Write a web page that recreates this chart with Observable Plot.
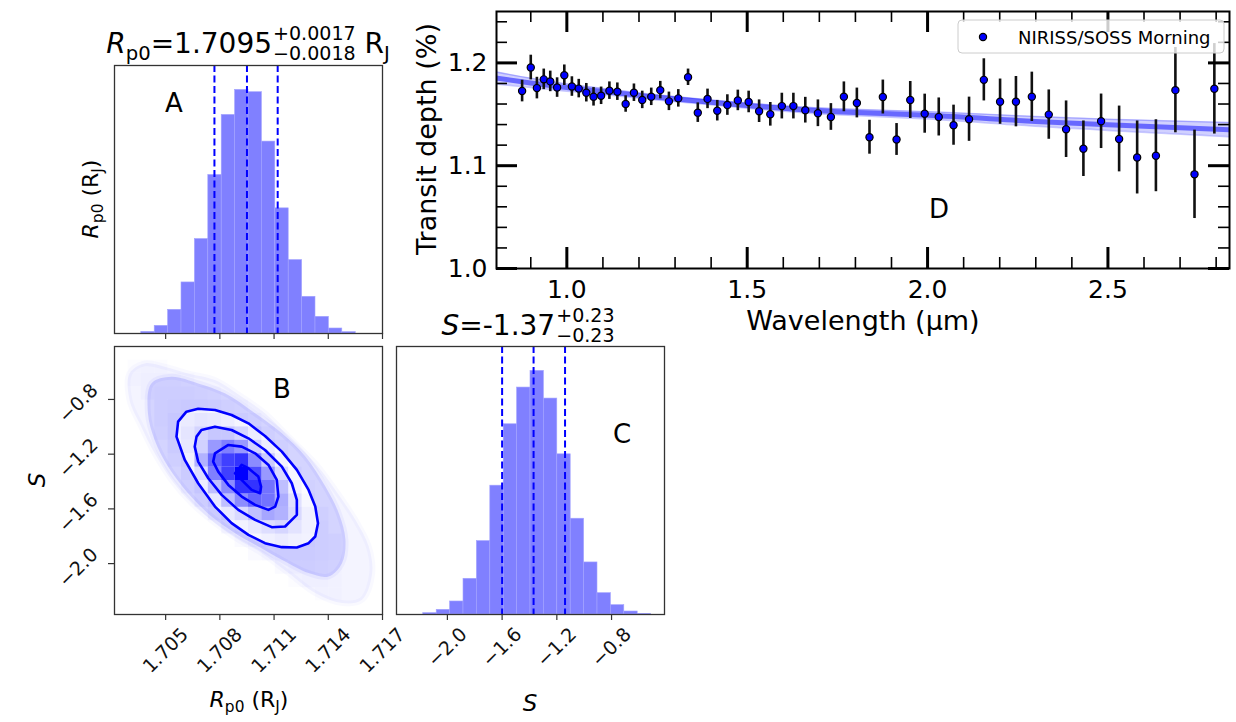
<!DOCTYPE html>
<html><head><meta charset="utf-8">
<script src="https://cdn.jsdelivr.net/npm/d3@7"></script>
<script src="https://cdn.jsdelivr.net/npm/@observablehq/plot@0.6"></script>
<style>
body{margin:0;background:white;}
#chart{position:relative;width:1236px;height:722px;background:white;font-family:"DejaVu Sans",sans-serif;overflow:hidden;}
</style></head><body><div id="chart"></div>
<script>
// ---------- Panel D: transmission spectrum ----------
const wavelength = [0.876,0.900,0.917,0.936,0.954,0.973,0.993,1.014,1.033,1.054,1.074,1.095,1.118,1.140,1.163,1.186,1.209,1.234,1.259,1.283,1.309,1.336,1.363,1.390,1.417,1.445,1.474,1.504,1.533,1.564,1.596,1.628,1.661,1.696,1.732,1.768,1.804,1.839,1.876,1.914,1.952,1.992,2.031,2.072,2.115,2.156,2.201,2.245,2.289,2.336,2.384,2.432,2.481,2.531,2.581,2.633,2.687,2.740,2.795];
const depth = [1.1726,1.1955,1.1755,1.1840,1.1820,1.1760,1.1880,1.1770,1.1750,1.1710,1.1670,1.1680,1.1730,1.1720,1.1600,1.1710,1.1640,1.1670,1.1735,1.1626,1.1655,1.1860,1.1516,1.1650,1.1535,1.1590,1.1635,1.1620,1.1530,1.1500,1.1580,1.1580,1.1540,1.1510,1.1474,1.1670,1.1610,1.1277,1.1668,1.1255,1.1639,1.1506,1.1474,1.1394,1.1452,1.1835,1.1623,1.1623,1.1670,1.1497,1.1355,1.1165,1.1432,1.1260,1.1080,1.1097,1.1735,1.0916,1.1748];
const depthErr = [0.0105,0.0120,0.0105,0.0100,0.0100,0.0095,0.0100,0.0095,0.0090,0.0090,0.0090,0.0085,0.0085,0.0085,0.0080,0.0085,0.0085,0.0085,0.0085,0.0090,0.0085,0.0080,0.0095,0.0095,0.0100,0.0100,0.0100,0.0105,0.0110,0.0115,0.0125,0.0125,0.0125,0.0130,0.0130,0.0145,0.0145,0.0165,0.0165,0.0155,0.0180,0.0190,0.0185,0.0195,0.0215,0.0205,0.0220,0.0245,0.0240,0.0240,0.0275,0.0270,0.0265,0.0320,0.0355,0.0350,0.0415,0.0430,0.0440];
// model band
const bandWl     = [0.80,0.90,1.00,1.10,1.25,1.50,1.75,2.00,2.25,2.50,2.84];
const bandCenter = [1.1855,1.1805,1.1760,1.1722,1.1665,1.1585,1.1525,1.1490,1.1440,1.1398,1.1350];
const bandUpper  = [1.1915,1.1850,1.1795,1.1752,1.1690,1.1610,1.1555,1.1525,1.1485,1.1453,1.1420];
const bandLower  = [1.1795,1.1760,1.1725,1.1692,1.1640,1.1560,1.1495,1.1455,1.1395,1.1343,1.1280];
const wlDomain = [0.805, 2.837];
const depthDomain = [1.0, 1.25];
const wlMajor = [1.0, 1.5, 2.0, 2.5];
const wlMinor = [0.9,1.1,1.2,1.3,1.4,1.6,1.7,1.8,1.9,2.1,2.2,2.3,2.4,2.6,2.7,2.8];
const depthMajor = [1.0, 1.1, 1.2];
const depthMinor = [1.02,1.04,1.06,1.08,1.12,1.14,1.16,1.18,1.22,1.24];

// ---------- Corner plot ----------
const rpRange = [1.70217, 1.71700];
const sRange = [-2.372, -0.413];
const rpCounts = [0,0,5,23,71,153,283,475,655,730,723,575,375,220,110,50,15,4,0,0];
const sCounts  = [0,0,4,14,39,107,220,386,570,680,730,647,480,287,156,64,28,9,2,0];
const rpQuantiles = [1.7077, 1.7095, 1.7112];
const sQuantiles = [-1.60, -1.37, -1.14];
const rpTicks = [1.705, 1.708, 1.711, 1.714, 1.717];
const sTicks = [-2.0, -1.6, -1.2, -0.8];
// 2D histogram density (rows from top S to bottom S, columns from low to high Rp0)
const densityRows = [
 [0,0,0,0,0,0,0,0,0,0,0,0,0,0,0,0,0,0,0,0],
 [0,.01,.01,.01,0,0,0,0,0,0,0,0,0,0,0,0,0,0,0,0],
 [0,.01,.02,.02,.02,.01,0,0,0,0,0,0,0,0,0,0,0,0,0,0],
 [0,0,.02,.03,.03,.03,.02,.01,0,0,0,0,0,0,0,0,0,0,0,0],
 [0,0,0,.03,.04,.05,.05,.04,.02,.01,0,0,0,0,0,0,0,0,0,0],
 [0,0,0,.03,.06,.08,.10,.09,.07,.04,.02,0,0,0,0,0,0,0,0,0],
 [0,0,0,.02,.06,.10,.17,.22,.22,.16,.08,.02,0,0,0,0,0,0,0,0],
 [0,0,0,0,.04,.09,.18,.40,.50,.40,.18,.07,.02,0,0,0,0,0,0,0],
 [0,0,0,0,.02,.06,.30,.60,.75,.80,.45,.20,.05,0,0,0,0,0,0,0],
 [0,0,0,0,0,.04,.14,.50,.75,1,.70,.40,.15,.03,0,0,0,0,0,0],
 [0,0,0,0,0,.02,.07,.25,.45,.80,.80,.55,.25,.06,.01,0,0,0,0,0],
 [0,0,0,0,0,0,.03,.09,.25,.45,.60,.55,.32,.12,.03,0,0,0,0,0],
 [0,0,0,0,0,0,0,.04,.09,.15,.25,.35,.30,.15,.06,.02,0,0,0,0],
 [0,0,0,0,0,0,0,0,.03,.05,.09,.13,.16,.11,.06,.03,0,0,0,0],
 [0,0,0,0,0,0,0,0,0,.02,.04,.06,.08,.06,.05,.03,.02,0,0,0],
 [0,0,0,0,0,0,0,0,0,0,.02,.03,.04,.04,.04,.03,.02,0,0,0],
 [0,0,0,0,0,0,0,0,0,0,0,0,.02,.03,.03,.02,.01,0,0,0],
 [0,0,0,0,0,0,0,0,0,0,0,0,0,.01,.02,.02,.01,0,0,0],
 [0,0,0,0,0,0,0,0,0,0,0,0,0,0,0,.01,.01,0,0,0],
 [0,0,0,0,0,0,0,0,0,0,0,0,0,0,0,0,0,0,0,0]
];
const contourLevel4 = [[1.70569,-0.9624],[1.70615,-0.8895],[1.70680,-0.8676],[1.70773,-0.8773],[1.70865,-0.9138],[1.70958,-0.9746],[1.71050,-1.0671],[1.71143,-1.1814],[1.71226,-1.3152],[1.71291,-1.4612],[1.71328,-1.5829],[1.71343,-1.7045],[1.71328,-1.8019],[1.71291,-1.8505],[1.71226,-1.8822],[1.71143,-1.8797],[1.71050,-1.8505],[1.70958,-1.7897],[1.70865,-1.7045],[1.70773,-1.5829],[1.70680,-1.4126],[1.70606,-1.2423],[1.70560,-1.0719]];
const contourLevel3 = [[1.70671,-1.0719],[1.70698,-1.0233],[1.70773,-0.9989],[1.70865,-1.0233],[1.70958,-1.0841],[1.71050,-1.1693],[1.71143,-1.2909],[1.71198,-1.4126],[1.71226,-1.5342],[1.71226,-1.6437],[1.71161,-1.7289],[1.71087,-1.7337],[1.70995,-1.6802],[1.70902,-1.6072],[1.70810,-1.4977],[1.70736,-1.3761],[1.70680,-1.2544],[1.70661,-1.1449]];
const contourLevel2 = [[1.70773,-1.1936],[1.70847,-1.1328],[1.70921,-1.1449],[1.70995,-1.1936],[1.71069,-1.2787],[1.71115,-1.3882],[1.71124,-1.5099],[1.71106,-1.5829],[1.71069,-1.6072],[1.70995,-1.5707],[1.70921,-1.5099],[1.70847,-1.4247],[1.70791,-1.3274],[1.70763,-1.2544]];
const contourLevel1 = [[1.70921,-1.2787],[1.70958,-1.3031],[1.71013,-1.3639],[1.71028,-1.4369],[1.71023,-1.4856],[1.70976,-1.4612],[1.70930,-1.4004],[1.70884,-1.3396]];
// extent of the sample cloud (outer sparse, inner dense)
const cloudOuter = [[1.70300,-0.6096],[1.70384,-0.5367],[1.70495,-0.5610],[1.70624,-0.6096],[1.70773,-0.6583],[1.70921,-0.7800],[1.71050,-0.9016],[1.71180,-1.0719],[1.71328,-1.2666],[1.71439,-1.4612],[1.71550,-1.6802],[1.71624,-1.8749],[1.71643,-2.0695],[1.71587,-2.2641],[1.71476,-2.2885],[1.71328,-2.2155],[1.71180,-2.0695],[1.71032,-1.9235],[1.70902,-1.8262],[1.70773,-1.7045],[1.70643,-1.5586],[1.70532,-1.3882],[1.70439,-1.1936],[1.70365,-0.9989],[1.70300,-0.8043]];
const cloudInner = [[1.70421,-0.6826],[1.70532,-0.6340],[1.70680,-0.6826],[1.70828,-0.7556],[1.70995,-0.9016],[1.71143,-1.0476],[1.71273,-1.2179],[1.71384,-1.4369],[1.71458,-1.6316],[1.71495,-1.8262],[1.71476,-1.9965],[1.71402,-2.0938],[1.71291,-2.0695],[1.71143,-1.9722],[1.71013,-1.8749],[1.70884,-1.7775],[1.70754,-1.6559],[1.70624,-1.4856],[1.70513,-1.2909],[1.70439,-1.0963],[1.70402,-0.9016]];

const BLUE = "#0000ff";
const FONT = "DejaVu Sans, sans-serif";
const NBSP = "\u00a0";
const chart = document.getElementById("chart");
function place(el, left, top){ el.style.position="absolute"; el.style.left=left+"px"; el.style.top=top+"px"; chart.appendChild(el); }
const baseStyle = {background:"none", overflow:"visible", fontFamily:FONT, color:"black"};
const minus = s => s.replace("-", "\u2212");
const TICKFS = 19;

// ----- Panel D -----
const spec = wavelength.map((w,i)=>({w, d:depth[i], e:depthErr[i]}));
const band = bandWl.map((w,i)=>({w, lo:bandLower[i], c:bandCenter[i], hi:bandUpper[i]}));
const DW = 733, DH = 257;
const plotD = Plot.plot({
  width: 90+DW+7, height: 11+DH+80, marginLeft:90, marginRight:7, marginTop:11, marginBottom:80,
  x:{domain:wlDomain}, y:{domain:depthDomain},
  style: baseStyle,
  marks:[
    Plot.areaY(band,{x:"w", y1:"lo", y2:"hi", fill:BLUE, fillOpacity:0.18, curve:"natural", clip:true}),
    Plot.line(band,{x:"w", y:"lo", stroke:BLUE, strokeOpacity:0.22, strokeWidth:1.5, curve:"natural", clip:true}),
    Plot.line(band,{x:"w", y:"hi", stroke:BLUE, strokeOpacity:0.22, strokeWidth:1.5, curve:"natural", clip:true}),
    Plot.line(band,{x:"w", y:"c", stroke:BLUE, strokeOpacity:0.5, strokeWidth:5, curve:"natural", clip:true}),
    Plot.ruleX(spec,{x:"w", y1:d=>d.d-d.e, y2:d=>d.d+d.e, stroke:"#111", strokeWidth:2.6}),
    Plot.dot(spec,{x:"w", y:"d", r:3.6, fill:BLUE, stroke:"black", strokeWidth:1.2}),
    Plot.tickX(wlMajor,{x:d=>d, insetTop:DH-21, stroke:"black", strokeWidth:3}),
    Plot.tickX(wlMajor,{x:d=>d, insetBottom:DH-21, stroke:"black", strokeWidth:3}),
    Plot.tickX(wlMinor,{x:d=>d, insetTop:DH-11, stroke:"black", strokeWidth:1.6}),
    Plot.tickX(wlMinor,{x:d=>d, insetBottom:DH-11, stroke:"black", strokeWidth:1.6}),
    Plot.tickY(depthMajor,{y:d=>d, insetRight:DW-21, stroke:"black", strokeWidth:3}),
    Plot.tickY(depthMajor,{y:d=>d, insetLeft:DW-21, stroke:"black", strokeWidth:3}),
    Plot.tickY(depthMinor,{y:d=>d, insetRight:DW-11, stroke:"black", strokeWidth:1.6}),
    Plot.tickY(depthMinor,{y:d=>d, insetLeft:DW-11, stroke:"black", strokeWidth:1.6}),
    Plot.frame({stroke:"black", strokeWidth:2}),
    Plot.axisX({ticks:wlMajor, tickSize:0, tickPadding:12, tickFormat:d=>d.toFixed(1), fontSize:25, label:null}),
    Plot.axisY({ticks:depthMajor, tickSize:0, tickPadding:9, tickFormat:d=>d.toFixed(1), fontSize:25, label:null})
  ]
});
place(plotD, 406, 0);

// ----- histograms -----
function bins(counts, range){ const w=(range[1]-range[0])/counts.length; return counts.map((c,i)=>({x1:range[0]+i*w, x2:range[0]+(i+1)*w, c})).filter(d=>d.c>0); }
const HIST_FILL = "#8080ff";
const plotA = Plot.plot({
  width:268, height:280, marginLeft:0, marginRight:0, marginTop:0, marginBottom:12,
  x:{domain:rpRange}, y:{domain:[0, 1.1*d3.max(rpCounts)], axis:null},
  style: baseStyle,
  marks:[
    Plot.rect(bins(rpCounts, rpRange),{x1:"x1", x2:"x2", y1:0, y2:"c", fill:HIST_FILL, stroke:"#a3a3ff", strokeWidth:0.6}),
    Plot.ruleX(rpQuantiles,{x:d=>d, stroke:BLUE, strokeWidth:2, strokeDasharray:"7,3.5"}),
    Plot.frame({stroke:"#333", strokeWidth:1.3}),
    Plot.axisX({ticks:rpTicks, tickSize:6, tickFormat:()=>"", label:null, stroke:"#333", strokeWidth:1.2})
  ]
});
place(plotA, 114, 65);

const plotC = Plot.plot({
  width:268, height:280, marginLeft:0, marginRight:0, marginTop:0, marginBottom:12,
  x:{domain:sRange}, y:{domain:[0, 1.1*d3.max(sCounts)], axis:null},
  style: baseStyle,
  marks:[
    Plot.rect(bins(sCounts, sRange),{x1:"x1", x2:"x2", y1:0, y2:"c", fill:HIST_FILL, stroke:"#a3a3ff", strokeWidth:0.6}),
    Plot.ruleX(sQuantiles,{x:d=>d, stroke:BLUE, strokeWidth:2, strokeDasharray:"7,3.5"}),
    Plot.frame({stroke:"#333", strokeWidth:1.3}),
    Plot.axisX({ticks:sTicks, tickSize:6, tickFormat:()=>"", label:null, stroke:"#333", strokeWidth:1.2}),
    Plot.text(sTicks,{x:d=>d, text:d=>minus(d.toFixed(1)), frameAnchor:"bottom", dy:33, rotate:-45, textAnchor:"middle", lineAnchor:"middle", fontSize:TICKFS, fill:"#111"})
  ]
});
place(plotC, 396, 346);

// ----- 2D panel -----
const nb = densityRows.length;
const wx = (rpRange[1]-rpRange[0])/nb, wy = (sRange[1]-sRange[0])/nb;
const cells = [];
densityRows.forEach((row,r)=>row.forEach((v,c)=>{ if(v>0) cells.push({x1:rpRange[0]+c*wx, x2:rpRange[0]+(c+1)*wx, y1:sRange[1]-r*wy, y2:sRange[1]-(r+1)*wy, v}); }));
const contours = [
  ...contourLevel4.map(p=>({x:p[0], y:p[1], k:4})),
  ...contourLevel3.map(p=>({x:p[0], y:p[1], k:3})),
  ...contourLevel2.map(p=>({x:p[0], y:p[1], k:2})),
  ...contourLevel1.map(p=>({x:p[0], y:p[1], k:1}))
];
const plotB = Plot.plot({
  width:268, height:280, marginLeft:0, marginRight:0, marginTop:0, marginBottom:12,
  x:{domain:rpRange}, y:{domain:sRange}, opacity:{domain:[0,1], range:[0,1]},
  style: baseStyle,
  marks:[
    Plot.line(cloudOuter,{x:d=>d[0], y:d=>d[1], fill:BLUE, fillOpacity:0.045, stroke:BLUE, strokeOpacity:0.025, strokeWidth:6, curve:"catmull-rom-closed", clip:true}),
    Plot.line(cloudInner,{x:d=>d[0], y:d=>d[1], fill:BLUE, fillOpacity:0.13, stroke:BLUE, strokeOpacity:0.04, strokeWidth:6, curve:"catmull-rom-closed", clip:true}),
    Plot.line(contourLevel4,{x:d=>d[0], y:d=>d[1], fill:"white", stroke:"none", curve:"linear-closed"}),
    Plot.rect(cells,{x1:"x1", x2:"x2", y1:"y1", y2:"y2", fill:BLUE, fillOpacity:"v"}),
    Plot.line(contours,{x:"x", y:"y", z:"k", stroke:BLUE, strokeWidth:2.6, curve:"linear-closed", strokeLinejoin:"round"}),
    Plot.frame({stroke:"#333", strokeWidth:1.3}),
    Plot.axisX({ticks:rpTicks, tickSize:6, tickFormat:()=>"", label:null, stroke:"#333", strokeWidth:1.2}),
    Plot.axisY({ticks:sTicks, tickSize:6, tickFormat:()=>"", label:null, stroke:"#333", strokeWidth:1.2}),
    Plot.text(rpTicks,{x:d=>d, text:d=>d.toFixed(3), frameAnchor:"bottom", dy:36, rotate:-45, textAnchor:"middle", lineAnchor:"middle", fontSize:TICKFS, fill:"#111"}),
    Plot.text(sTicks,{y:d=>d, text:d=>minus(d.toFixed(1)), frameAnchor:"left", dx:-36, dy:4, rotate:-45, textAnchor:"middle", lineAnchor:"middle", fontSize:TICKFS, fill:"#111"})
  ]
});
place(plotB, 114, 346);

// ----- text overlay -----
const ov = d3.select(chart).append("svg").attr("width",1236).attr("height",722)
  .style("position","absolute").style("left","0px").style("top","0px")
  .style("font-family",FONT).style("overflow","visible");
function rich(parts, x, y, size, {anchor="middle", rotate=0}={}){
  const g = ov.append("g");
  let cx = 0;
  for(const p of parts){
    if(p.stack){
      const fs = size*0.68;
      const a = g.append("text").attr("x",cx+1).attr("y",-size*0.46).attr("font-size",fs).text(p.stack[0]);
      const b = g.append("text").attr("x",cx+1).attr("y",size*0.24).attr("font-size",fs).text(p.stack[1]);
      cx += Math.max(a.node().getComputedTextLength(), b.node().getComputedTextLength())+1;
    } else {
      const fs = p.sub ? size*0.7 : size;
      const t = g.append("text").attr("x",cx).attr("y",p.sub?size*0.24:0).attr("font-size",fs)
        .attr("font-style",p.italic?"italic":null).text(p.t);
      cx += t.node().getComputedTextLength();
    }
  }
  const off = anchor==="middle" ? -cx/2 : 0;
  g.attr("transform",`translate(${x},${y}) rotate(${rotate}) translate(${off},0)`);
}
// titles
rich([{t:"R",italic:true},{t:"p0",sub:true},{t:"=1.7095"},{stack:["+0.0017","\u22120.0018"]},{t:NBSP+"R"},{t:"J",sub:true}], 248, 53, 28);
rich([{t:"S",italic:true},{t:"=-1.37"},{stack:["+0.23","\u22120.23"]}], 528, 335, 28);
// corner axis labels
rich([{t:"R",italic:true},{t:"p0",sub:true},{t:NBSP+"(R"},{t:"J",sub:true},{t:")"}], 98, 199, 22, {rotate:-90});
rich([{t:"S",italic:true}], 45, 480, 23, {rotate:-90});
rich([{t:"R",italic:true},{t:"p0",sub:true},{t:NBSP+"(R"},{t:"J",sub:true},{t:")"}], 249, 707, 22);
rich([{t:"S",italic:true}], 530, 711, 23);
// spectrum axis labels
rich([{t:"Transit depth (%)"}], 436, 139, 27, {rotate:-90});
rich([{t:"Wavelength (\u00b5m)"}], 863, 330, 27);
// panel letters
[["A",174,112],["B",282,398],["C",622,443],["D",939,218]].forEach(([t,x,y])=>rich([{t}], x, y, 26));
// legend
const lg = ov.append("g");
lg.append("rect").attr("x",958).attr("y",20).attr("width",266).attr("height",33).attr("rx",4)
  .attr("fill","white").attr("fill-opacity",0.8).attr("stroke","#cccccc").attr("stroke-width",1);
lg.append("circle").attr("cx",983).attr("cy",37).attr("r",3.6).attr("fill",BLUE).attr("stroke","black").attr("stroke-width",1.2);
lg.append("text").attr("x",1018).attr("y",43.5).attr("font-size",18).text("NIRISS/SOSS Morning");
</script></body></html>
